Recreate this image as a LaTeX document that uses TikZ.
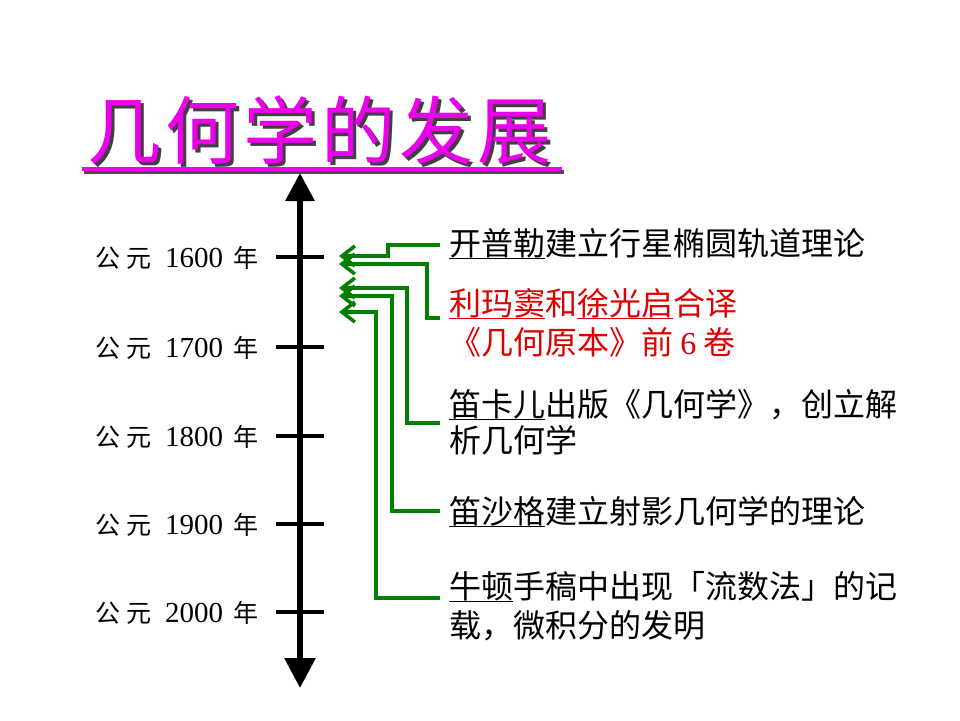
\documentclass[tikz,border=0pt]{standalone}
\usepackage{fontspec}
\setmainfont{Liberation Serif}
\newfontfamily\cjk{Noto Sans CJK SC}
\usetikzlibrary{arrows.meta}
\definecolor{ttl}{RGB}{235,0,235}
\definecolor{grn}{RGB}{0,128,0}
\definecolor{rd}{RGB}{220,0,0}
\newcommand\myul[1]{\setbox0\hbox{#1}\rlap{\rule[-4pt]{\wd0}{1.3pt}}\box0}
\newcommand\ttltext{几\hspace{4pt}何\hspace{4pt}学\hspace{4pt}的\hspace{4pt}发\hspace{4pt}展}
\newcommand\shadowed[1]{\rlap{\kern3pt\raisebox{-3pt}{\textcolor{black!75}{#1}}}\textcolor{ttl}{#1}}
\tikzset{
  x=1pt,y=-1pt,
  yearlbl/.style={anchor=base west,inner sep=0pt,font=\fontsize{29}{32}\selectfont},
  evt/.style={anchor=base west,inner sep=0pt,align=left,font=\cjk\fontsize{32}{38}\selectfont},
  tick/.style={line width=4pt},
  link/.style={grn,line width=3.5pt,-{Straight Barb[length=13pt,width=20pt]}},
  ttlfont/.style={font=\cjk\fontsize{74}{80}\selectfont},
}
\newcommand\yr[1]{{\cjk\fontsize{25}{30}\selectfont 公\hspace{6pt}元}\hspace{14pt}#1\hspace{10pt}{\cjk\fontsize{25}{30}\selectfont 年}}
\begin{document}
\begin{tikzpicture}
\useasboundingbox (0,0) rectangle (960,720);
\fill[white] (0,0) rectangle (960,720);
% title
\node[anchor=base west,inner sep=0pt,ttlfont] (title) at (87,158) {\shadowed{\ttltext}};
\draw[black!70,line width=4pt] (84,172) -- (564,172);
\draw[ttl,line width=4pt] (82,169) -- (562,169);
% axis
\coordinate (axtop) at (300,173);
\coordinate (axbot) at (300,688);
\draw[line width=6pt,{Triangle[length=28pt,width=28pt]}-{Triangle[length=30pt,width=30pt]}] (axtop) -- (axbot);
% ticks and labels
\foreach \n/\y/\t in {1/257/1600,2/347/1700,3/436/1800,4/524/1900,5/612/2000}{
  \coordinate (tl\n) at (276,\y);
  \coordinate (tr\n) at (324,\y);
  \draw[tick] (tl\n) -- (tr\n);
  \node[yearlbl] (y\n) at (95,\y+10) {\yr{\t}};
}
% events
\node[evt] (e1) at (449,255) {\myul{开普勒}建立行星椭圆轨道理论};
\node[evt,text=rd,font=\cjk\fontsize{32}{39}\selectfont] (e2) at (449,354) {\myul{利玛窦}和\myul{徐光启}合译\\《几何原本》前 {\fontspec{Liberation Serif}6} 卷};
\node[evt,font=\cjk\fontsize{32}{36}\selectfont] (e3) at (449,452) {\myul{笛卡儿}出版《几何学》，创立解\\析几何学};
\node[evt] (e4) at (449,523) {\myul{笛沙格}建立射影几何学的理论};
\node[evt,font=\cjk\fontsize{32}{39}\selectfont] (e5) at (449,637) {\myul{牛顿}手稿中出现「流数法」的记\\载，微积分的发明};
% connector endpoints
\coordinate (s1) at (440,245);
\coordinate (s2) at (440,318);
\coordinate (s3) at (440,423);
\coordinate (s4) at (440,511);
\coordinate (s5) at (440,598);
\coordinate (a1) at (339,256);
\coordinate (a2) at (339,264);
\coordinate (a3) at (339,288);
\coordinate (a4) at (339,296);
\coordinate (a5) at (339,312);
\draw[link] (s1) -- (388,245) -- (388,256) -- (a1);
\draw[link] (s2) -- (427,318) -- (427,264) -- (a2);
\draw[link] (s3) -- (407,423) -- (407,288) -- (a3);
\draw[link] (s4) -- (392,511) -- (392,296) -- (a4);
\draw[link] (s5) -- (376,598) -- (376,312) -- (a5);
\end{tikzpicture}
\end{document}
